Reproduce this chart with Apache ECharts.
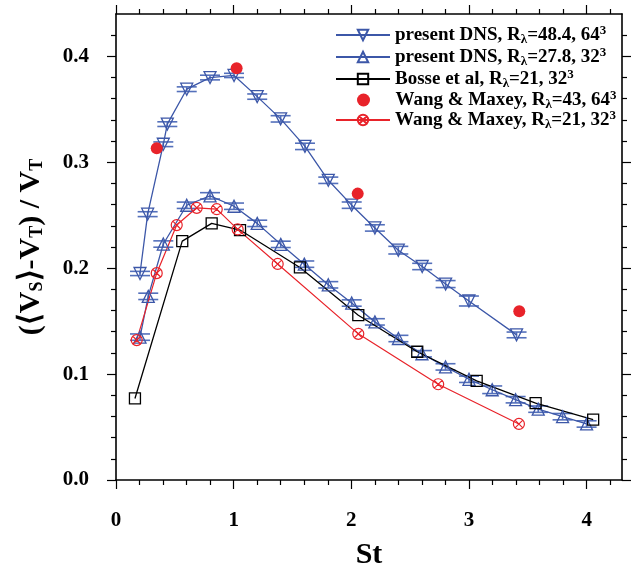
<!DOCTYPE html>
<html>
<head>
<meta charset="utf-8">
<script src="https://cdn.jsdelivr.net/npm/echarts@6/dist/echarts.min.js"></script>
<style>html,body{margin:0;padding:0;background:#fff;}#c{width:639px;height:575px;}</style>
</head>
<body>
<div id="c"></div>
<script>
// ---- data ----
const st1 = [0.204, 0.269, 0.402, 0.436, 0.601, 0.799, 1.003, 1.200, 1.399, 1.606, 1.804, 2.003, 2.200, 2.399, 2.602, 2.801, 2.999, 3.404];
const v1  = [0.195, 0.251, 0.317, 0.336, 0.369, 0.380, 0.382, 0.362, 0.341, 0.315, 0.283, 0.2595, 0.238, 0.217, 0.2016, 0.185, 0.169, 0.137];
const e1  = [0.002, 0.0023, 0.0022, 0.0022, 0.0022, 0.0022, 0.002, 0.0025, 0.003, 0.003, 0.003, 0.003, 0.003, 0.0036, 0.003, 0.0033, 0.0047, 0.0027];

const st2 = [0.204, 0.274, 0.402, 0.601, 0.799, 1.003, 1.200, 1.400, 1.600, 1.804, 2.003, 2.200, 2.400, 2.600, 2.800, 3.000, 3.197, 3.396, 3.588, 3.795, 3.999];
const v2  = [0.1349, 0.1734, 0.2228, 0.2594, 0.2683, 0.2585, 0.2423, 0.2225, 0.2038, 0.1843, 0.1671, 0.1493, 0.1336, 0.1192, 0.1068, 0.0951, 0.0852, 0.0758, 0.0669, 0.0598, 0.0529];
const e2  = [0.003, 0.003, 0.003, 0.003, 0.003, 0.003, 0.003, 0.003, 0.003, 0.003, 0.003, 0.003, 0.003, 0.003, 0.003, 0.003, 0.0036, 0.003, 0.003, 0.003, 0.003];

const st3 = [0.161, 0.563, 0.813, 1.054, 1.563, 2.059, 2.560, 3.065, 3.566, 4.055];
const v3  = [0.077, 0.2256, 0.2423, 0.236, 0.2007, 0.1556, 0.1211, 0.0936, 0.0726, 0.057];

const st4 = [0.346, 1.025, 2.054, 3.427];
const v4  = [0.3133, 0.3887, 0.2704, 0.1593];

const st5 = [0.176, 0.346, 0.516, 0.686, 0.856, 1.034, 1.374, 2.059, 2.738, 3.424];
const v5  = [0.1321, 0.1953, 0.2407, 0.257, 0.2557, 0.2366, 0.204, 0.138, 0.0904, 0.0529];

const xMajor = [0, 1, 2, 3, 4];
const xMinor = [0.2, 0.4, 0.6, 0.8, 1.2, 1.4, 1.6, 1.8, 2.2, 2.4, 2.6, 2.8, 3.2, 3.4, 3.6, 3.8, 4.2];
const yMajor = [0.0, 0.1, 0.2, 0.3, 0.4];
const yMinor = [0.02, 0.04, 0.06, 0.08, 0.12, 0.14, 0.16, 0.18, 0.22, 0.24, 0.26, 0.28, 0.32, 0.34, 0.36, 0.38, 0.42];

const names = ['dns48', 'dns27', 'bosse', 'wm43', 'wm21'];
const legendText = {
  dns48: 'present DNS, R{s|λ}=48.4, 64{p|3}',
  dns27: 'present DNS, R{s|λ}=27.8, 32{p|3}',
  bosse: 'Bosse et al, R{s|λ}=21, 32{p|3}',
  wm43:  'Wang & Maxey, R{s|λ}=43, 64{p|3}',
  wm21:  'Wang & Maxey, R{s|λ}=21, 32{p|3}'
};

// ---- chart ----
const FONT = '"Liberation Serif","Times New Roman",serif';
const BLUE = '#3c57a8';
const CAP = '#5470bb';
const RED = '#e8232a';
const zip = (a, b) => a.map((x, i) => [x, b[i]]);
const zip3 = (a, b, c) => a.map((x, i) => [x, b[i], c[i]]);

const chart = echarts.init(document.getElementById('c'), null, {renderer: 'canvas'});

function errItem(params, api) {
  const x = api.value(0), y = api.value(1), e = api.value(2);
  const t = api.coord([x, y + e]);
  const b = api.coord([x, y - e]);
  const hw = 10;
  const st = {stroke: CAP, lineWidth: 1.6};
  return {type: 'group', children: [
    {type: 'line', shape: {x1: t[0] - hw, y1: t[1], x2: t[0] + hw, y2: t[1]}, style: st},
    {type: 'line', shape: {x1: b[0] - hw, y1: b[1], x2: b[0] + hw, y2: b[1]}, style: st},
    {type: 'line', shape: {x1: t[0], y1: t[1], x2: b[0], y2: b[1]}, style: st}
  ]};
}

const tickStyle = {color: '#000', width: 1.2};
function axLine(show) {
  return {show: show, onZero: false, lineStyle: {color: '#000', width: 1.6}};
}
function xAx(pos, vals, len, labels, line) {
  return {
    type: 'value', min: 0, max: 4.3, position: pos,
    axisLine: axLine(line),
    axisTick: {show: true, inside: false, length: len, customValues: vals, lineStyle: tickStyle},
    axisLabel: labels ? {show: true, customValues: xMajor, margin: 30, color: '#000',
      fontFamily: FONT, fontWeight: 'bold', fontSize: 21, formatter: v => String(v)} : {show: false},
    splitLine: {show: false}, minorTick: {show: false}
  };
}
function yAx(pos, vals, len, labels, line) {
  return {
    type: 'value', min: 0, max: 0.44, position: pos,
    axisLine: axLine(line),
    axisTick: {show: true, inside: false, length: len, customValues: vals, lineStyle: tickStyle},
    axisLabel: labels ? {show: true, customValues: yMajor, margin: 27, color: '#000',
      fontFamily: FONT, fontWeight: 'bold', fontSize: 21, formatter: v => v.toFixed(1)} : {show: false},
    splitLine: {show: false}, minorTick: {show: false}
  };
}

const xAxes = [xAx('bottom', xMajor, 9, true, true), xAx('bottom', xMinor, 5, false, false),
               xAx('top', xMajor, 9, false, true), xAx('top', xMinor, 5, false, false)];
xAxes[0].name = 'St';
xAxes[0].nameLocation = 'middle';
xAxes[0].nameGap = 60;
xAxes[0].nameTextStyle = {fontFamily: FONT, fontWeight: 'bold', fontSize: 30, color: '#000'};

const yAxes = [yAx('left', yMajor, 9, true, true), yAx('left', yMinor, 5, false, false),
               yAx('right', yMajor, 9, false, true), yAx('right', yMinor, 5, false, false)];
yAxes[0].name = '(⟨V{s|S}⟩-V{s|T}) / V{s|T}';
yAxes[0].nameLocation = 'middle';
yAxes[0].nameRotate = 90;
yAxes[0].nameGap = 70;
yAxes[0].nameTextStyle = {fontFamily: FONT, fontWeight: 'bold', fontSize: 30, color: '#000',
  rich: {s: {fontFamily: FONT, fontWeight: 'bold', fontSize: 18, verticalAlign: 'bottom', lineHeight: 20}}};

const legendRich = {
  s: {fontFamily: FONT, fontWeight: 'bold', fontSize: 13, lineHeight: 12, verticalAlign: 'bottom', color: '#000'},
  p: {fontFamily: FONT, fontWeight: 'bold', fontSize: 13, lineHeight: 12, verticalAlign: 'top', color: '#000'}
};
const legendCenters = [35, 57, 79, 100, 120];
const legends = names.map((n, i) => ({
  data: [n === 'wm43' ? {name: n, icon: 'circle'} : n],
  left: n === 'wm43' ? 357 : 335, top: legendCenters[i] - 11, padding: 0,
  itemWidth: 54, itemHeight: 13, itemGap: 0,
  selectedMode: false,
  formatter: nm => legendText[nm],
  textStyle: {fontFamily: FONT, fontWeight: 'bold', fontSize: 19, lineHeight: 22, color: '#000', rich: legendRich}
}));

const circX = 'path://M0,-10A10,10,0,1,1,0,10A10,10,0,1,1,0,-10ZM-7.07,-7.07L7.07,7.07M7.07,-7.07L-7.07,7.07';

chart.setOption({
  animation: false,
  backgroundColor: '#fff',
  grid: {left: 116, right: 17, top: 14, bottom: 92, containLabel: false},
  xAxis: xAxes,
  yAxis: yAxes,
  legend: legends,
  series: [
    {type: 'custom', name: 'e1', data: zip3(st1, v1, e1), renderItem: errItem, z: 1, silent: true},
    {type: 'custom', name: 'e2', data: zip3(st2, v2, e2), renderItem: errItem, z: 1, silent: true},
    {type: 'line', name: 'dns48', data: zip(st1, v1), symbol: 'triangle', symbolRotate: 180, symbolSize: 12,
      showAllSymbol: true, lineStyle: {color: BLUE, width: 1.3},
      itemStyle: {color: 'rgba(255,255,255,0)', borderColor: BLUE, borderWidth: 1.3}, z: 3},
    {type: 'line', name: 'dns27', data: zip(st2, v2), symbol: 'triangle', symbolSize: 12,
      showAllSymbol: true, lineStyle: {color: BLUE, width: 1.3},
      itemStyle: {color: 'rgba(255,255,255,0)', borderColor: BLUE, borderWidth: 1.3}, z: 3},
    {type: 'line', name: 'bosse', data: zip(st3, v3), symbol: 'rect', symbolSize: 11,
      showAllSymbol: true, lineStyle: {color: '#000', width: 1.3},
      itemStyle: {color: 'rgba(255,255,255,0)', borderColor: '#000', borderWidth: 1.3}, z: 3},
    {type: 'scatter', name: 'wm43', data: zip(st4, v4), symbol: 'circle', symbolSize: 12,
      itemStyle: {color: RED, opacity: 1}, z: 4},
    {type: 'line', name: 'wm21', data: zip(st5, v5), symbol: circX, symbolSize: 11,
      showAllSymbol: true, lineStyle: {color: RED, width: 1.2},
      itemStyle: {color: 'rgba(255,255,255,0)', borderColor: RED, borderWidth: 1.2}, z: 3}
  ]
});
</script>
</body>
</html>
